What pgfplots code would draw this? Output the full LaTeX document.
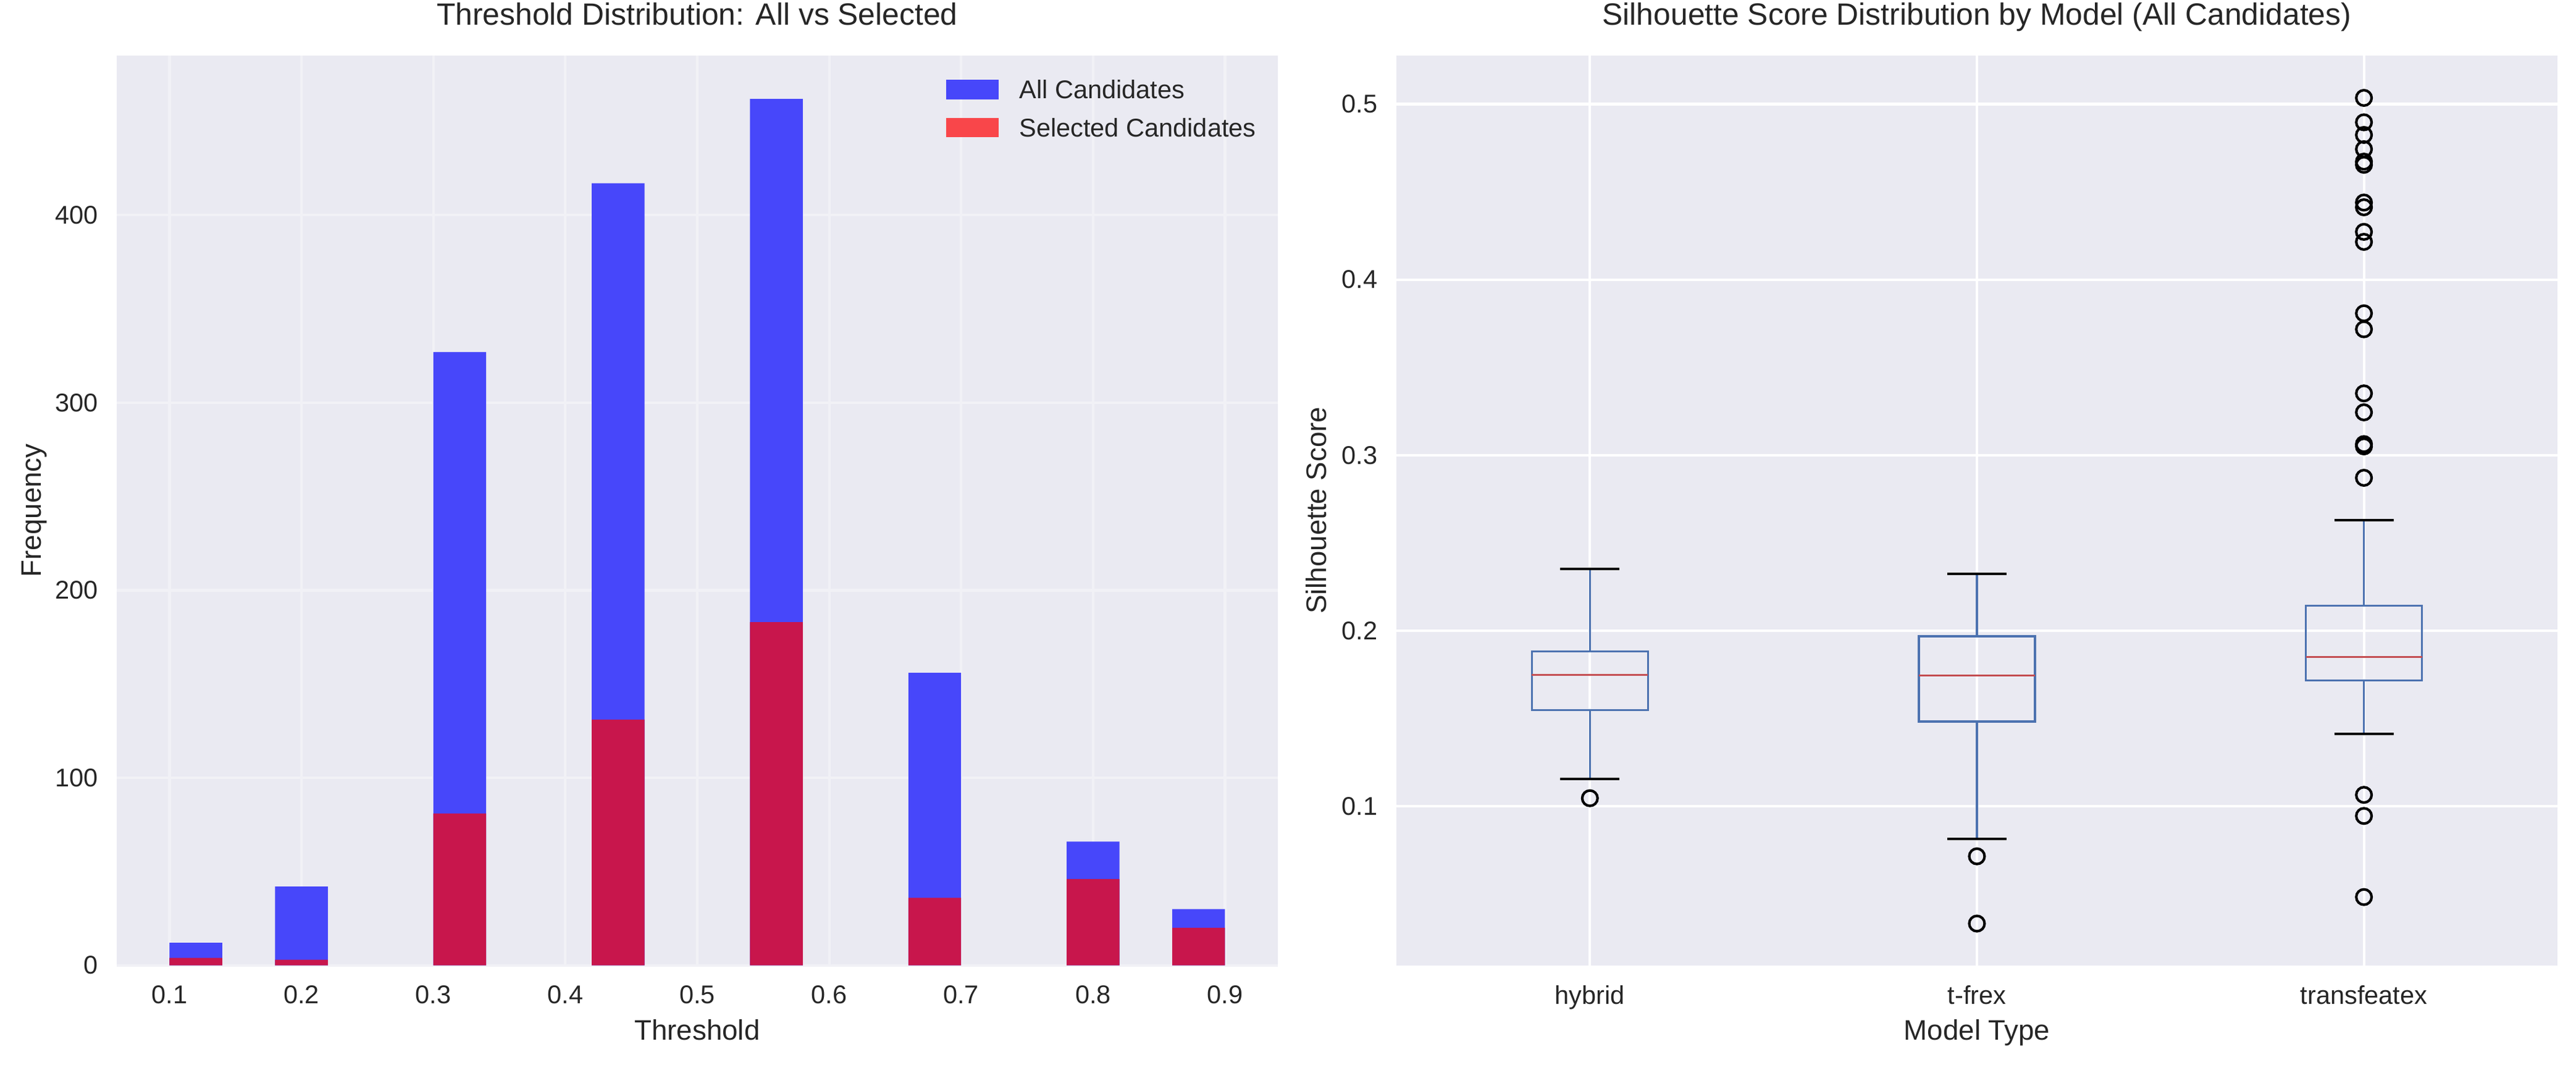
\documentclass[border=0pt]{standalone}
\usepackage{fontspec}
\setmainfont{Liberation Sans}
\usepackage{pgfplots}
\pgfplotsset{compat=1.18}
\usepgfplotslibrary{statistics}
\definecolor{bg}{HTML}{EAEAF2}
\definecolor{lgrid}{HTML}{F1F1F6}
\definecolor{allblue}{HTML}{4747FA}
\definecolor{overlap}{HTML}{C8164C}
\definecolor{selred}{HTML}{F9464A}
\definecolor{boxblue}{HTML}{4C72B0}
\definecolor{medred}{HTML}{C44E52}
\definecolor{txt}{HTML}{262626}
\pgfplotsset{
  darkgrid/.style={
    scale only axis, width=452.89pt, height=354.77pt, anchor=south west,
    axis background/.style={fill=bg},
    axis line style={draw=none},
    major tick length=0pt,
    grid=major,
    tick label style={font=\fontsize{10}{12}\selectfont, text=txt},
    /pgf/number format/assume math mode=true,
    xticklabel style={anchor=north, inner sep=0pt, yshift=-7.8pt},
    yticklabel style={anchor=east, inner sep=0pt, xshift=-7.2pt},
    title style={at={(0.5,1)}, anchor=base, yshift=6pt, inner sep=0pt, font=\fontsize{12}{14}\selectfont, text=txt},
    xlabel style={at={(axis description cs:0.5,0)}, anchor=base, yshift=-29.1pt, inner sep=0pt, font=\fontsize{11}{13}\selectfont, text=txt},
    ylabel style={anchor=base, inner sep=0pt, font=\fontsize{11}{13}\selectfont, text=txt},
  },
  boxplot/draw/box/.code={%
    \draw[boxblue, line width=0.85pt]
      (boxplot box cs:\pgfplotsboxplotvalue{lower quartile},0)
      rectangle
      (boxplot box cs:\pgfplotsboxplotvalue{upper quartile},1);
  },
  boxplot/draw/median/.code={%
    \draw[medred, line width=0.85pt]
      (boxplot box cs:\pgfplotsboxplotvalue{median},0)
      --
      (boxplot box cs:\pgfplotsboxplotvalue{median},1);
  },
  boxplot/draw/lower whisker/.code={%
    \draw[boxblue, line width=0.85pt]
      (boxplot cs:\pgfplotsboxplotvalue{lower quartile})
      --
      (boxplot cs:\pgfplotsboxplotvalue{lower whisker});
    \draw[black, line width=0.95pt]
      (boxplot whisker cs:\pgfplotsboxplotvalue{lower whisker},0)
      --
      (boxplot whisker cs:\pgfplotsboxplotvalue{lower whisker},1);
  },
  boxplot/draw/upper whisker/.code={%
    \draw[boxblue, line width=0.85pt]
      (boxplot cs:\pgfplotsboxplotvalue{upper quartile})
      --
      (boxplot cs:\pgfplotsboxplotvalue{upper whisker});
    \draw[black, line width=0.95pt]
      (boxplot whisker cs:\pgfplotsboxplotvalue{upper whisker},0)
      --
      (boxplot whisker cs:\pgfplotsboxplotvalue{upper whisker},1);
  },
}
\begin{document}
\begin{tikzpicture}
% ---------------- Left: histogram ----------------
\begin{axis}[darkgrid,
  at={(45.53pt,38.86pt)},
  xmin=0.06, xmax=0.94, ymin=0, ymax=485.1,
  xtick={0.1,0.2,0.3,0.4,0.5,0.6,0.7,0.8,0.9},
  xticklabels={0.1,0.2,0.3,0.4,0.5,0.6,0.7,0.8,0.9},
  ytick={0,100,200,300,400},
  major grid style={draw=lgrid, line width=1pt},
  title={Threshold Distribution: All vs Selected},
  xlabel={Threshold}, ylabel={Frequency},
  ylabel style={at={(axis description cs:-0.06505,0.5)}},
  legend style={at={(0.7143,0.9735)}, anchor=north west, draw=none, fill=none,
    inner sep=0pt, outer sep=0pt, font=\fontsize{10}{12}\selectfont, text=txt,
    row sep=7.3pt, column sep=8.2pt,
    nodes={inner sep=0pt, text height=7.3pt, text depth=0pt}},
  legend cell align=left,
]
\addplot[ybar, bar width=0.04, bar shift=0pt, fill=allblue, draw=none, forget plot]
  coordinates {(0.12,12) (0.20,42) (0.32,327) (0.44,417) (0.56,462) (0.68,156) (0.80,66) (0.88,30)};
\addplot[ybar, bar width=0.04, bar shift=0pt, fill=overlap, draw=none, forget plot]
  coordinates {(0.12,4) (0.20,3) (0.32,81) (0.44,131) (0.56,183) (0.68,36) (0.80,46) (0.88,20)};
\addlegendimage{legend image code/.code={\fill[allblue] (0pt,-3.6pt) rectangle (20pt,3.6pt);}}
\addlegendentry{All Candidates}
\addlegendimage{legend image code/.code={\fill[selred] (0pt,-3.6pt) rectangle (20pt,3.6pt);}}
\addlegendentry{Selected Candidates}
\end{axis}
% ---------------- Right: boxplots ----------------
\begin{axis}[darkgrid,
  at={(544.67pt,38.86pt)},
  xmin=0.5, xmax=3.5, ymin=0.0094, ymax=0.5276,
  xtick={1,2,3}, xticklabels={hybrid,t-frex,transfeatex},
  ytick={0.1,0.2,0.3,0.4,0.5},
  yticklabels={0.1,0.2,0.3,0.4,0.5},
  major grid style={draw=white, line width=1pt},
  title={Silhouette Score Distribution by Model (All Candidates)},
  xlabel={Model Type}, ylabel={Silhouette Score},
  ylabel style={at={(axis description cs:-0.0605,0.5)}},
  boxplot/draw direction=y,
]
\addplot[boxplot prepared={draw position=1, lower whisker=0.1155, lower quartile=0.1548,
  median=0.1749, upper quartile=0.1882, upper whisker=0.2351, box extend=0.3, whisker extend=0.153}] coordinates {};
\addplot[boxplot prepared={draw position=2, lower whisker=0.0814, lower quartile=0.1482,
  median=0.1745, upper quartile=0.1968, upper whisker=0.2324, box extend=0.3, whisker extend=0.153}] coordinates {};
\addplot[boxplot prepared={draw position=3, lower whisker=0.1411, lower quartile=0.1717,
  median=0.1850, upper quartile=0.2142, upper whisker=0.2631, box extend=0.3, whisker extend=0.153}] coordinates {};
\addplot[only marks, mark=o, mark size=3pt, black, line width=1pt]
  coordinates {(1,0.1046) (2,0.0715) (2,0.0332)
  (3,0.1065) (3,0.0945) (3,0.0483) (3,0.2871) (3,0.3050) (3,0.3063) (3,0.3244) (3,0.3352)
  (3,0.3717) (3,0.3808) (3,0.4215) (3,0.4272) (3,0.4412) (3,0.4439) (3,0.4654) (3,0.4672)
  (3,0.4743) (3,0.4824) (3,0.4896) (3,0.5035)};
\end{axis}
\pgfresetboundingbox
\path[use as bounding box] (0,0) rectangle (1004.80pt,415.31pt);
\end{tikzpicture}
\end{document}
